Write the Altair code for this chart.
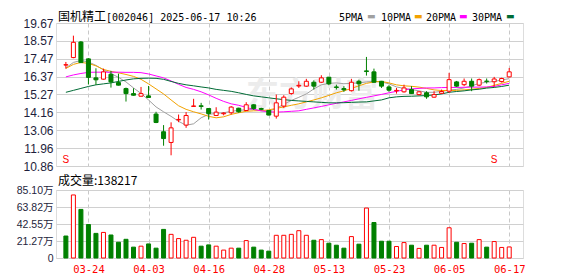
import altair as alt
import pandas as pd

stock_name = "国机精工"
stock_info = "[002046] 2025-06-17 10:26"
vol_title = "成交量:138217"

dates = ["03-19", "03-20", "03-21", "03-24", "03-25", "03-26", "03-27", "03-28", "03-31",
         "04-01", "04-02", "04-03", "04-07", "04-08", "04-09", "04-10", "04-11", "04-14",
         "04-15", "04-16", "04-17", "04-18", "04-21", "04-22", "04-23", "04-24", "04-25",
         "04-28", "04-29", "04-30", "05-06", "05-07", "05-08", "05-09", "05-12", "05-13",
         "05-14", "05-15", "05-16", "05-19", "05-20", "05-21", "05-22", "05-23", "05-26",
         "05-27", "05-28", "05-29", "05-30", "06-03", "06-04", "06-05", "06-06", "06-09",
         "06-10", "06-11", "06-12", "06-13", "06-16", "06-17"]

opens = [17.08, 17.54, 18.50, 17.46, 16.29, 16.21, 16.51, 16.00, 15.63, 15.32,
         15.16, 15.18, 14.06, 12.97, 12.31, 13.70, 13.38, 14.53, 14.57, 14.40,
         13.97, 14.08, 14.14, 14.42, 14.28, 14.63, 14.40, 14.28, 13.93, 14.55,
         15.32, 15.79, 15.78, 16.02, 16.02, 16.33, 15.73, 15.63, 15.50, 16.08,
         16.72, 16.66, 16.08, 15.73, 15.49, 15.43, 15.57, 15.26, 15.37, 15.10,
         15.34, 15.47, 16.04, 15.87, 16.08, 15.84, 16.09, 16.05, 16.06, 16.35]
closes = [17.10, 18.48, 17.23, 16.32, 16.17, 16.66, 16.04, 15.84, 15.32, 15.22,
          15.32, 15.08, 13.54, 12.55, 13.21, 13.73, 13.97, 14.56, 14.53, 14.09,
          14.18, 14.12, 14.49, 14.20, 14.63, 14.40, 14.35, 14.00, 14.75, 15.10,
          15.61, 15.83, 16.08, 15.78, 16.29, 15.92, 15.70, 15.55, 16.02, 15.92,
          16.68, 16.02, 15.78, 15.53, 15.52, 15.67, 15.32, 15.43, 15.12, 15.26,
          15.45, 16.18, 15.78, 16.08, 15.78, 16.18, 16.07, 16.22, 16.25, 16.66]
highs = [17.27, 18.89, 18.56, 17.50, 16.88, 16.86, 16.72, 16.55, 15.69, 15.65,
         15.73, 15.79, 14.20, 13.38, 13.55, 14.03, 14.18, 15.00, 14.75, 14.42,
         14.48, 14.17, 14.55, 14.45, 14.79, 14.67, 14.45, 14.30, 15.26, 15.22,
         15.70, 16.08, 16.23, 16.14, 16.45, 16.35, 15.87, 15.78, 16.23, 16.18,
         17.58, 16.86, 16.10, 15.84, 15.67, 15.87, 15.78, 15.47, 15.47, 15.47,
         15.57, 16.60, 16.10, 16.25, 16.25, 16.25, 16.25, 16.35, 16.30, 16.90]
lows = [16.86, 17.50, 17.20, 15.88, 15.86, 16.18, 15.69, 15.82, 14.83, 15.20,
        15.14, 15.05, 13.50, 12.11, 11.52, 13.56, 13.21, 14.50, 14.34, 13.72,
        13.95, 13.98, 14.03, 14.14, 14.24, 14.32, 14.30, 13.98, 13.78, 14.44,
        15.25, 15.67, 15.75, 15.57, 15.98, 15.84, 15.57, 15.43, 15.45, 15.50,
        16.43, 15.98, 15.67, 15.43, 15.32, 15.38, 15.30, 15.22, 15.00, 15.07,
        15.30, 15.37, 15.72, 15.78, 15.47, 15.78, 15.94, 15.75, 16.00, 16.32]

# volume in 万 (10k shares)
volumes = [27.5, 78.9, 60.8, 41.9, 30.8, 32.0, 28.8, 19.7, 23.4, 13.6,
           14.8, 17.6, 12.3, 35.8, 29.6, 24.3, 22.2, 25.9, 14.8, 16.4,
           14.8, 9.9, 12.3, 12.3, 21.8, 13.6, 9.9, 8.6, 28.4, 28.4,
           29.6, 34.2, 28.4, 22.2, 23.0, 18.5, 16.0, 12.3, 26.8, 17.3,
           62.5, 44.4, 21.0, 21.0, 14.4, 19.3, 16.0, 12.0, 16.0, 16.0,
           13.2, 37.8, 19.7, 18.1, 18.5, 23.0, 13.6, 20.6, 13.2, 13.82]
vol_up = [0, 1, 0, 0, 0, 1, 0, 0, 0, 0,
          1, 0, 0, 0, 1, 1, 1, 1, 0, 0,
          1, 1, 1, 0, 1, 0, 0, 0, 1, 1,
          1, 1, 1, 0, 1, 0, 0, 0, 1, 0,
          1, 0, 0, 0, 1, 1, 0, 1, 0, 1,
          1, 1, 0, 1, 0, 1, 0, 1, 1, 1]

ma5 = [16.90, 17.24, 17.36, 17.27, 17.06, 16.78, 16.56, 16.32, 16.04, 15.67,
       15.33, 14.93, 14.50, 14.20, 13.92, 13.61, 13.37, 13.46, 13.83, 14.04,
       14.10, 14.14, 14.23, 14.29, 14.32, 14.34, 14.26, 14.23, 14.41, 14.66,
       14.90, 15.09, 15.30, 15.61, 15.86, 15.95, 15.98, 15.93, 15.95, 15.98,
       16.04, 16.07, 16.04, 15.92, 15.73, 15.64, 15.57, 15.49, 15.40, 15.40,
       15.46, 15.53, 15.58, 15.67, 15.80, 15.95, 16.02, 16.07, 16.16, 16.24]
ma10 = [16.87, 17.12, 17.24, 17.18, 17.03, 16.81, 16.69, 16.60, 16.50, 16.38,
        16.20, 15.92, 15.61, 15.30, 14.93, 14.57, 14.35, 14.20, 14.07, 13.92,
        13.83, 13.89, 14.04, 14.14, 14.23, 14.26, 14.27, 14.32, 14.41, 14.50,
        14.60, 14.69, 14.81, 14.93, 15.06, 15.21, 15.37, 15.49, 15.64, 15.80,
        15.95, 16.04, 16.07, 15.98, 15.86, 15.80, 15.77, 15.72, 15.64, 15.55,
        15.51, 15.51, 15.52, 15.55, 15.59, 15.64, 15.70, 15.83, 15.95, 16.08]
ma20 = [16.35, 16.47, 16.56, 16.63, 16.64, 16.64, 16.64, 16.64, 16.63, 16.63,
        16.61, 16.53, 16.41, 16.29, 16.10, 15.89, 15.70, 15.58, 15.43, 15.24,
        15.03, 14.84, 14.69, 14.60, 14.47, 14.35, 14.26, 14.20, 14.18, 14.20,
        14.23, 14.26, 14.35, 14.44, 14.53, 14.63, 14.72, 14.81, 14.90, 15.00,
        15.09, 15.18, 15.27, 15.37, 15.46, 15.55, 15.61, 15.64, 15.67, 15.67,
        15.69, 15.70, 15.70, 15.71, 15.72, 15.72, 15.73, 15.76, 15.86, 15.95]
ma30 = [15.40, 15.52, 15.64, 15.76, 15.86, 15.92, 15.98, 16.07, 16.16, 16.23,
        16.26, 16.27, 16.26, 16.20, 16.07, 15.95, 15.86, 15.80, 15.73, 15.67,
        15.58, 15.52, 15.46, 15.37, 15.27, 15.18, 15.12, 15.06, 15.00, 14.95,
        14.90, 14.87, 14.84, 14.81, 14.78, 14.75, 14.75, 14.76, 14.78, 14.80,
        14.81, 14.87, 14.93, 15.06, 15.12, 15.15, 15.16, 15.18, 15.20, 15.24,
        15.30, 15.40, 15.45, 15.49, 15.55, 15.59, 15.66, 15.70, 15.76, 15.84]

ma_names = ["5PMA", "10PMA", "20PMA", "30PMA"]
ma_colors = ["#a0a0a0", "#f2a200", "#ff00ff", "#006b35"]

price_ticks = [10.86, 11.96, 13.06, 14.16, 15.27, 16.37, 17.47, 18.57, 19.67]
vol_ticks = [0, 21.27, 42.55, 63.82, 85.10]
label_dates = ["03-24", "04-03", "04-16", "04-28", "05-13", "05-23", "06-05", "06-17"]
signal_dates = ["03-19", "06-13"]

UP = "#ff0000"
DOWN = "#008000"

df = pd.DataFrame({
    "date": dates, "open": opens, "close": closes, "high": highs, "low": lows,
    "vol": volumes, "vol_up": vol_up,
})
df["idx"] = range(len(dates))
df["top"] = df[["open", "close"]].max(axis=1)
df["bot"] = df[["open", "close"]].min(axis=1)

ma_df = pd.DataFrame({"idx": list(range(len(dates))) * 4,
                      "series": sum([[n] * len(dates) for n in ma_names], []),
                      "value": ma5 + ma10 + ma20 + ma30})

sig_df = df[df["date"].isin(signal_dates)]

label_idx = [dates.index(d) for d in label_dates]
xscale = alt.Scale(domain=[-0.65, 60.17], nice=False, zero=False)
date_expr = "[" + ",".join("'%s'" % d for d in dates) + "][datum.value]"

px_axis = alt.Axis(values=label_idx, labels=False, ticks=False, domain=False, grid=True,
                   gridDash=[4, 3], gridColor="#c8c8c8", title=None)
vx_axis = alt.Axis(values=label_idx, labelExpr=date_expr, ticks=False, domain=False, grid=True,
                   gridDash=[4, 3], gridColor="#c8c8c8", title=None, labelColor="#ff0000",
                   labelFont="DejaVu Sans Mono", labelFontSize=10.5, labelPadding=6,
                   labelFlush=False)
py_axis = alt.Axis(values=price_ticks, format=".2f", ticks=False, domain=False, grid=True,
                   gridColor="#d0d0d0", labelFont="Liberation Sans", labelFontSize=12,
                   labelColor="#1e1e3c", labelPadding=3, title=None, minExtent=47, maxExtent=47)
vy_axis = alt.Axis(values=vol_ticks,
                   labelExpr="datum.value == 0 ? '0' : format(datum.value, '.2f') + '万'",
                   ticks=False, domain=False, grid=True, gridColor="#d0d0d0",
                   labelFont="Liberation Sans, Noto Sans CJK SC", labelFontSize=10.5,
                   labelColor="#1e1e3c", labelPadding=3, title=None, minExtent=47, maxExtent=47)

PX = alt.X("idx:Q", scale=xscale, axis=px_axis)
VX = alt.X("idx:Q", scale=xscale, axis=vx_axis)
pscale = alt.Scale(domain=[10.86, 19.67], nice=False, zero=False)
vscale = alt.Scale(domain=[0, 85.10], nice=False)

is_up = "datum.close >= datum.open"

watermark = alt.Chart(pd.DataFrame({"t": ["东方财富"]})).mark_text(
    align="center", baseline="middle", font="Noto Sans CJK SC", fontSize=33,
    fontWeight="bold", color="#ececec"
).encode(x=alt.value(256), y=alt.value(73), text="t:N")

lines = alt.Chart(ma_df).mark_line(strokeWidth=1).encode(
    x=PX,
    y=alt.Y("value:Q", scale=pscale, axis=py_axis),
    color=alt.Color("series:N", scale=alt.Scale(domain=ma_names, range=ma_colors), legend=None),
)

wicks = alt.Chart(df).mark_rule(strokeWidth=1).encode(
    x=PX,
    y=alt.Y("low:Q", scale=pscale, axis=py_axis),
    y2="high:Q",
    color=alt.condition(is_up, alt.value(UP), alt.value(DOWN)),
)

bodies = alt.Chart(df).mark_bar(size=4, strokeWidth=1).encode(
    x=PX,
    y=alt.Y("bot:Q", scale=pscale, axis=py_axis),
    y2="top:Q",
    fill=alt.condition(is_up, alt.value("#ffffff"), alt.value(DOWN)),
    stroke=alt.condition(is_up, alt.value(UP), alt.value(DOWN)),
)

signals = alt.Chart(sig_df).mark_text(
    text="S", color="#ff0000", fontSize=10, font="Liberation Sans", baseline="middle"
).encode(x=PX, y=alt.value(137))

title_a = alt.Chart(pd.DataFrame({"t": [stock_name]})).mark_text(
    align="left", baseline="alphabetic", font="Noto Sans CJK SC", fontSize=12, color="#000000"
).encode(x=alt.value(2), y=alt.value(-2), text="t:N")
title_b = alt.Chart(pd.DataFrame({"t": [stock_info]})).mark_text(
    align="left", baseline="alphabetic", font="DejaVu Sans Mono", fontSize=10, color="#000000"
).encode(x=alt.value(50), y=alt.value(-2), text="t:N")

legend_layers = []
legend_x = [283, 325, 370, 416]
swatch_x = [311, 358, 403, 450]
for name, col, lx, sx in zip(ma_names, ma_colors, legend_x, swatch_x):
    legend_layers.append(
        alt.Chart(pd.DataFrame({"t": [name]})).mark_text(
            align="left", baseline="alphabetic", font="DejaVu Sans Mono", fontSize=10,
            color="#000000"
        ).encode(x=alt.value(lx), y=alt.value(-2), text="t:N")
    )
    legend_layers.append(
        alt.Chart(pd.DataFrame({"t": ["▬"]})).mark_text(
            align="left", baseline="alphabetic", font="DejaVu Sans", fontSize=9, color=col
        ).encode(x=alt.value(sx), y=alt.value(-4), text="t:N")
    )

price = alt.layer(watermark, lines, wicks, bodies, signals, title_a, title_b,
                  *legend_layers).properties(width=467, height=143)

vbars = alt.Chart(df).mark_bar(size=4, strokeWidth=1).encode(
    x=VX,
    y=alt.Y("vol:Q", scale=vscale, axis=vy_axis),
    fill=alt.condition("datum.vol_up == 1", alt.value("#ffffff"), alt.value(DOWN)),
    stroke=alt.condition("datum.vol_up == 1", alt.value(UP), alt.value(DOWN)),
)
vtext = alt.Chart(pd.DataFrame({"t": [vol_title]})).mark_text(
    align="left", baseline="alphabetic", font="Noto Sans CJK SC", fontSize=12, color="#000000"
).encode(x=alt.value(2), y=alt.value(-5), text="t:N")

volume = alt.layer(vbars, vtext).properties(width=467, height=68)

chart = alt.vconcat(price, volume, spacing=24, bounds="flush").properties(
    padding={"left": 0, "top": 2, "right": 4, "bottom": 0}
).configure_view(stroke="#999999", strokeWidth=1).configure(background="#ffffff")

chart.save("out.html", embed_options={"renderer": "svg", "actions": False})
